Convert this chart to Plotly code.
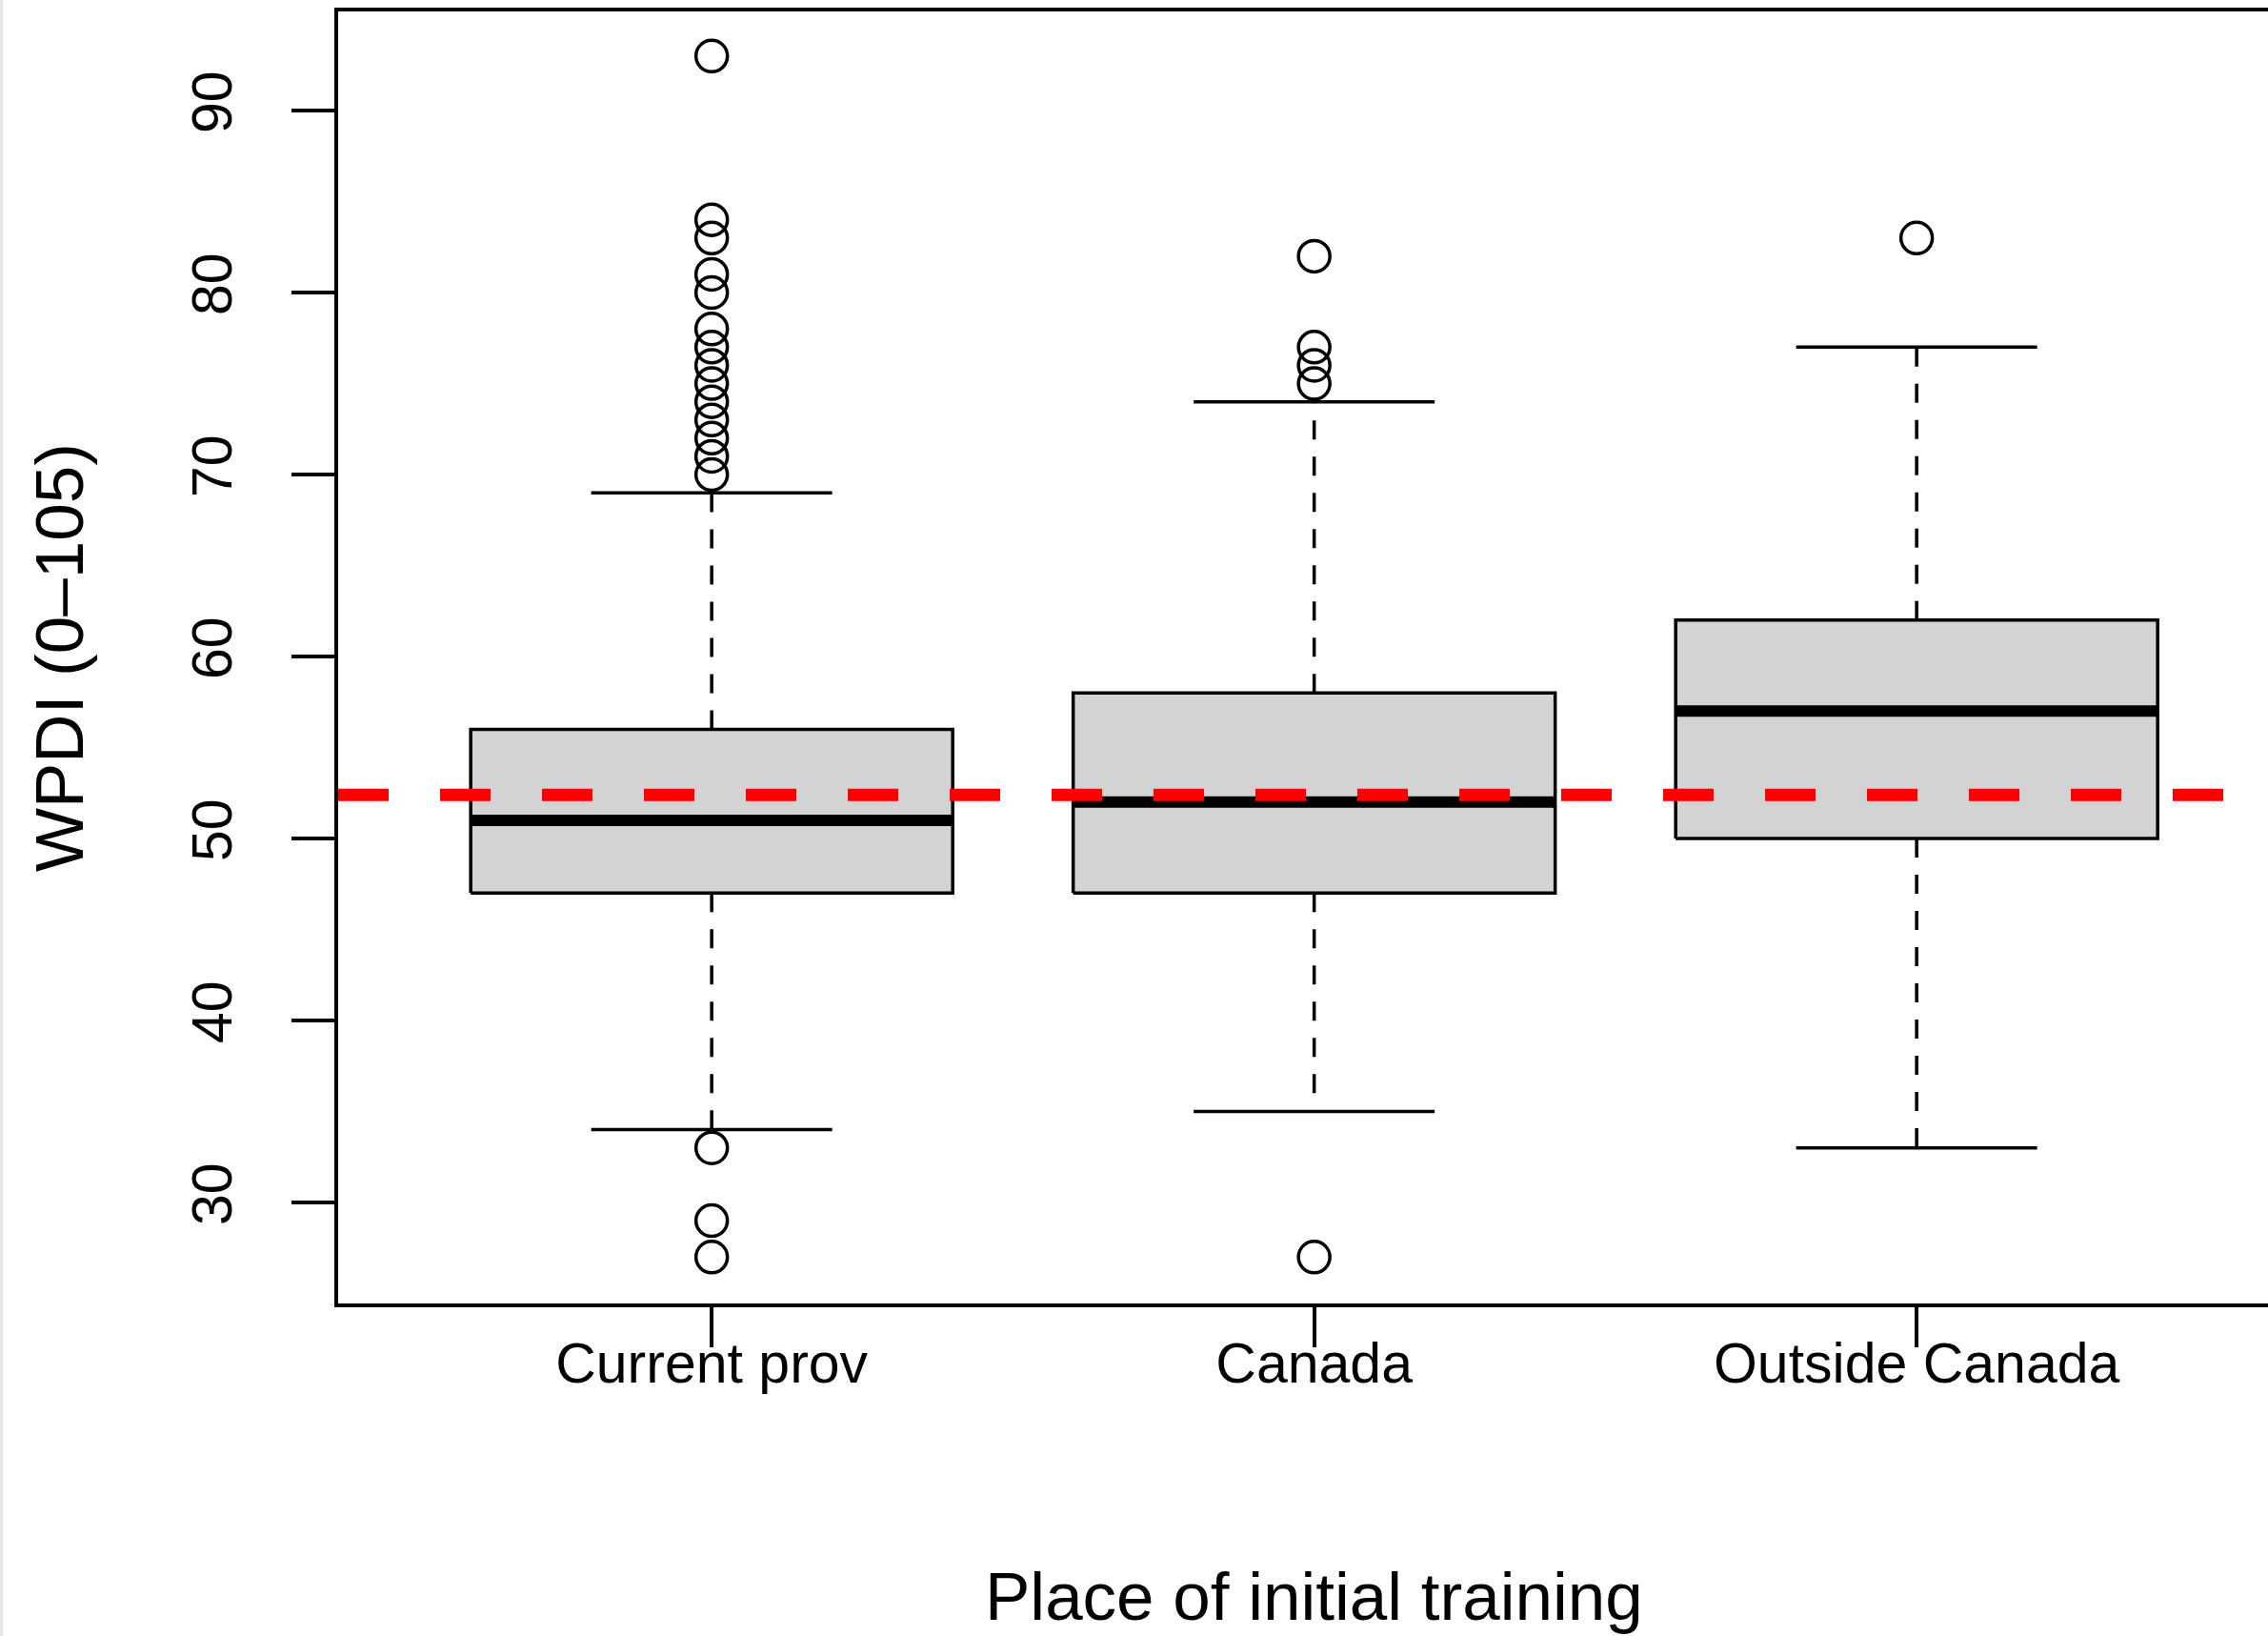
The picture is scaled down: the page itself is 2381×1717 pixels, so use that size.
import plotly.graph_objects as go

# Five-number summaries for WPDI by place of initial training
categories = ["Current prov", "Canada", "Outside Canada"]
lower_whisker = [34, 35, 33]
q1 = [47, 47, 50]
median = [51, 52, 57]
q3 = [56, 58, 62]
upper_whisker = [69, 74, 77]

# Individual outlying observations per group
outliers = [
    [93, 84, 83, 81, 80, 78, 77, 76, 75, 74, 73, 72, 71, 70, 33, 29, 27],
    [82, 77, 76, 75, 27],
    [83],
]

# Overall reference level
overall_mean = 52.4

y_ticks = [30, 40, 50, 60, 70, 80, 90]

FONT = "Liberation Sans, Arial, Helvetica, sans-serif"
BOX_HALF = 0.4
STAPLE_HALF = 0.2
LW = 3.5

fig = go.Figure()

for i, cat in enumerate(categories):
    xc = i + 1
    # whiskers (dashed)
    fig.add_trace(go.Scatter(
        x=[xc, xc, None, xc, xc],
        y=[q3[i], upper_whisker[i], None, q1[i], lower_whisker[i]],
        mode="lines", line=dict(color="black", width=LW, dash="20px,18px"),
        hoverinfo="skip", showlegend=False))
    # staples
    fig.add_trace(go.Scatter(
        x=[xc - STAPLE_HALF, xc + STAPLE_HALF, None, xc - STAPLE_HALF, xc + STAPLE_HALF],
        y=[upper_whisker[i], upper_whisker[i], None, lower_whisker[i], lower_whisker[i]],
        mode="lines", line=dict(color="black", width=LW),
        hoverinfo="skip", showlegend=False))
    # box
    fig.add_trace(go.Scatter(
        x=[xc - BOX_HALF, xc + BOX_HALF, xc + BOX_HALF, xc - BOX_HALF, xc - BOX_HALF],
        y=[q1[i], q1[i], q3[i], q3[i], q1[i]],
        mode="lines", fill="toself", fillcolor="#d3d3d3",
        line=dict(color="black", width=LW),
        hoverinfo="skip", showlegend=False))
    # median
    fig.add_trace(go.Scatter(
        x=[xc - BOX_HALF, xc + BOX_HALF], y=[median[i], median[i]],
        mode="lines", line=dict(color="black", width=12),
        hoverinfo="skip", showlegend=False))
    # outliers
    fig.add_trace(go.Scatter(
        x=[xc] * len(outliers[i]), y=outliers[i],
        mode="markers",
        marker=dict(symbol="circle-open", size=33, color="black",
                    line=dict(width=LW, color="black")),
        hoverinfo="skip", showlegend=False))

# mean reference line
fig.add_shape(type="line", xref="paper", yref="y", x0=0, x1=1,
              y0=overall_mean, y1=overall_mean,
              line=dict(color="#ff0000", width=13, dash="53px,54px"),
              layer="above")

# thin page edge on the far left
fig.add_shape(type="line", xref="paper", yref="paper",
              x0=-355 / 2026 + 0.0008, x1=-355 / 2026 + 0.0008, y0=-1, y1=2,
              line=dict(color="#e6e6e6", width=3))

fig.add_annotation(text="Place of initial training", x=2, xref="x",
                   y=0, yref="paper", yshift=-307, yanchor="middle",
                   showarrow=False, font=dict(family=FONT, size=71, color="black"))
fig.add_annotation(text="WPDI (0\u2013105)", x=0, xref="paper", xshift=-293,
                   xanchor="center", y=0.5, yref="paper", yanchor="middle",
                   textangle=-90, showarrow=False,
                   font=dict(family=FONT, size=71, color="black"))

fig.update_layout(
    width=2381, height=1717,
    margin=dict(l=355, r=0, t=12, b=349, autoexpand=False),
    paper_bgcolor="white", plot_bgcolor="white",
    font=dict(family=FONT, color="black", size=59),
    xaxis=dict(range=[0.38, 0.38 + 2026 / 632.5], tickvals=[1, 2, 3],
               ticktext=categories, showgrid=False, zeroline=False,
               showline=True, mirror=True, linecolor="black", linewidth=LW,
               ticks="outside", ticklen=42, tickwidth=LW, tickcolor="black",
               ticklabelstandoff=-34,
               tickfont=dict(size=59, family=FONT, color="black")),
    yaxis=dict(range=[24.45, 95.45], tickvals=y_ticks, showgrid=False,
               zeroline=False, showline=True, mirror=False,
               linecolor="black", linewidth=LW,
               ticks="outside", ticklen=45, tickwidth=LW, tickcolor="black",
               tickangle=-90, ticklabelstandoff=40,
               tickfont=dict(size=59, family=FONT, color="black")),
)

fig.write_html("out.html")
